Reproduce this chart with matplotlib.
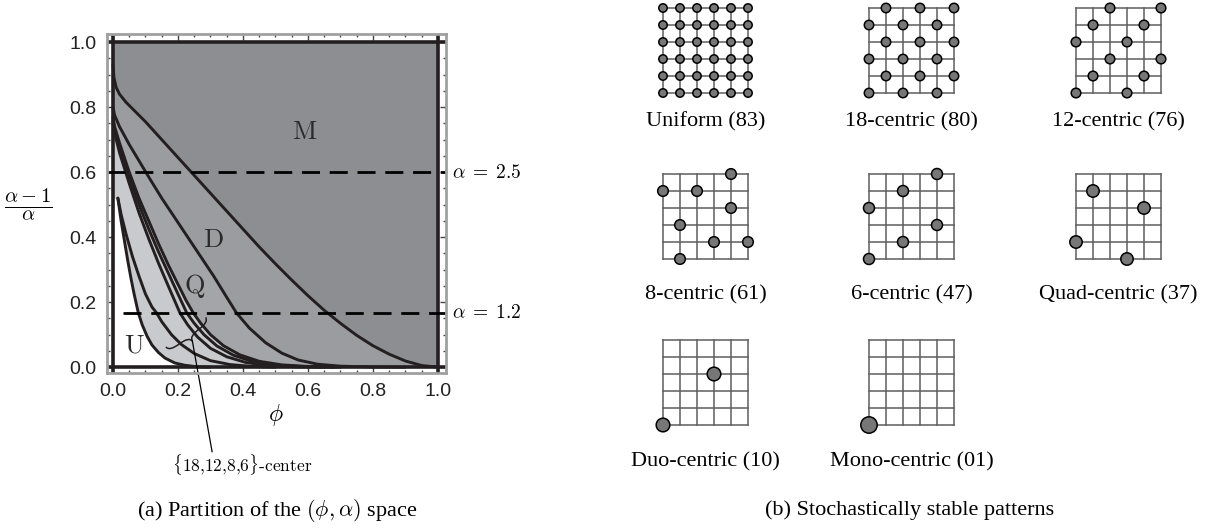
import numpy as np
import matplotlib.pyplot as plt
from matplotlib.patches import Circle, PathPatch
from matplotlib.path import Path

plt.rcParams['mathtext.fontset'] = 'cm'

# ---------------------------------------------------------------------------
# data: boundaries of the (phi, (alpha-1)/alpha) partition
# ---------------------------------------------------------------------------
# D | M
dm_x = [0.0, 0.003, 0.01, 0.02, 0.04, 0.07, 0.10, 0.15, 0.20, 0.25, 0.30, 0.35, 0.40,
        0.45, 0.50, 0.55, 0.60, 0.65, 0.70, 0.75, 0.80, 0.85, 0.90, 0.95, 1.0]
dm_y = [0.93, 0.89, 0.86, 0.84, 0.815, 0.785, 0.755, 0.70, 0.645, 0.59, 0.535, 0.48, 0.425,
        0.37, 0.318, 0.268, 0.22, 0.175, 0.135, 0.098, 0.066, 0.04, 0.019, 0.005, 0.0]
# Q | D
qd_x = [0.0, 0.005, 0.02, 0.05, 0.08, 0.113, 0.15, 0.19, 0.23, 0.27, 0.31, 0.35, 0.38,
        0.42, 0.47, 0.52, 0.57, 0.63, 0.70, 0.80, 0.90]
qd_y = [0.80, 0.775, 0.74, 0.685, 0.635, 0.58, 0.52, 0.46, 0.40, 0.34, 0.28, 0.215, 0.167,
        0.12, 0.075, 0.043, 0.022, 0.009, 0.003, 0.0005, 0.0]
# 6-centric | Q
sq_x = [0.0, 0.005, 0.02, 0.05, 0.08, 0.11, 0.14, 0.17, 0.20, 0.225, 0.247, 0.27, 0.30,
        0.34, 0.39, 0.45, 0.52, 0.60, 0.70]
sq_y = [0.77, 0.74, 0.69, 0.60, 0.52, 0.45, 0.38, 0.315, 0.255, 0.205, 0.167, 0.135, 0.10,
        0.066, 0.038, 0.018, 0.007, 0.002, 0.0]
# 8 | 6
es_x = [0.0, 0.005, 0.02, 0.05, 0.08, 0.11, 0.14, 0.17, 0.20, 0.227, 0.25, 0.28, 0.32,
        0.37, 0.43, 0.50, 0.58, 0.68]
es_y = [0.76, 0.73, 0.675, 0.585, 0.50, 0.425, 0.355, 0.29, 0.225, 0.167, 0.135, 0.10, 0.065,
        0.037, 0.017, 0.006, 0.002, 0.0]
# 12 | 8
te_x = [0.0, 0.005, 0.02, 0.05, 0.08, 0.11, 0.14, 0.17, 0.206, 0.23, 0.26, 0.30, 0.35,
        0.41, 0.48, 0.56, 0.65]
te_y = [0.75, 0.72, 0.66, 0.565, 0.475, 0.395, 0.32, 0.25, 0.167, 0.13, 0.093, 0.058, 0.032,
        0.014, 0.005, 0.001, 0.0]
# 18 | 12
et_x = [0.015, 0.025, 0.04, 0.06, 0.08, 0.10, 0.12, 0.134, 0.15, 0.18, 0.21, 0.25, 0.30,
        0.36, 0.43, 0.50]
et_y = [0.52, 0.47, 0.41, 0.34, 0.28, 0.225, 0.185, 0.167, 0.14, 0.10, 0.07, 0.042, 0.02,
        0.008, 0.002, 0.0]
# U | 18
u_x = [0.015, 0.025, 0.035, 0.045, 0.055, 0.065, 0.078, 0.09, 0.105, 0.12, 0.14, 0.16,
       0.19, 0.22, 0.26, 0.30]
u_y = [0.52, 0.45, 0.39, 0.33, 0.275, 0.225, 0.167, 0.13, 0.095, 0.068, 0.045, 0.028,
       0.013, 0.006, 0.001, 0.0]

alpha_levels = [2.5, 1.2]
region_names = ['M', 'D', 'Q', 'U']
region_x = [0.59, 0.308, 0.251, 0.067]
region_y = [0.723, 0.39, 0.251, 0.067]

# ---------------------------------------------------------------------------
# data: stochastically stable patterns on the 6x6 lattice (top row first)
# ---------------------------------------------------------------------------
pattern_labels = ['Uniform (83)', '18-centric (80)', '12-centric (76)',
                  '8-centric (61)', '6-centric (47)', 'Quad-centric (37)',
                  'Duo-centric (10)', 'Mono-centric (01)']
pattern_rows = [
    ['xxxxxx', 'xxxxxx', 'xxxxxx', 'xxxxxx', 'xxxxxx', 'xxxxxx'],
    ['.x.x.x', 'x.x.x.', '.x.x.x', 'x.x.x.', '.x.x.x', 'x.x.x.'],
    ['..x..x', '.x..x.', 'x..x..', '..x..x', '.x..x.', 'x..x..'],
    ['....x.', 'x.x...', '....x.', '.x....', '...x.x', '.x....'],
    ['....x.', '..x...', 'x.....', '....x.', '..x...', 'x.....'],
    ['......', '.x....', '....x.', '......', 'x.....', '...x..'],
    ['......', '......', '...x..', '......', '......', 'x.....'],
    ['......', '......', '......', '......', '......', 'x.....'],
]
node_radius_px = [4.2, 4.7, 4.8, 5.3, 5.5, 6.2, 6.8, 8.2]

W, H = 1225, 530
fig = plt.figure(figsize=(W / 100, H / 100), dpi=100)


def px_axes(x0, y0, x1, y1):
    return fig.add_axes([x0 / W, 1 - y1 / H, (x1 - x0) / W, (y1 - y0) / H])


# =============================================================================
# (a) partition of the parameter space
# =============================================================================
ax = px_axes(106.5, 34, 446, 373)
ax.set_xlim(-0.02, 1.025)
ax.set_ylim(-0.018, 1.025)

c_light, c_q, c_d, c_m = '#c9cacd', '#a4a5a9', '#9b9ca0', '#8d8e92'
line_c = '#231f20'

ax.fill_between([0, 1], 0, 1, color=c_light, lw=0)
ax.fill_between(np.r_[0, u_x], 0, np.r_[u_y[0], u_y], color='white', lw=0)
ax.fill_between(sq_x + [1.0], sq_y + [0.0], 1, color=c_q, lw=0)
ax.fill_between(qd_x + [1.0], qd_y + [0.0], 1, color=c_d, lw=0)
ax.fill_between(dm_x, dm_y, 1, color=c_m, lw=0)

for cx, cy in [(u_x, u_y), (et_x, et_y), (te_x, te_y), (es_x, es_y),
               (sq_x, sq_y), (qd_x, qd_y), (dm_x, dm_y)]:
    ax.plot(cx, cy, color=line_c, lw=2.1, solid_capstyle='round', solid_joinstyle='round')

for v in (0, 1):
    ax.axvline(v, color=line_c, lw=2.6)
    ax.axhline(v, color=line_c, lw=2.6)

starts = [-0.02, 0.03]
for a, s in zip(alpha_levels, starts):
    yv = (a - 1) / a
    ax.plot([s, 1.025], [yv, yv], color='black', lw=2, ls=(0, (6.5, 3.5)), clip_on=False)
    ax.text(1.045, yv, r'$\alpha\;=\;%g$' % a, fontsize=14, va='center', ha='left')

for name, rx, ry in zip(region_names, region_x, region_y):
    ax.text(rx, ry, r'$\mathrm{%s}$' % name, fontsize=19, ha='center', va='center',
            color='#2a2a2a')

# brace over the thin {18,12,8,6} strips
A = np.array([0.163, 0.062])
B = np.array([0.285, 0.153])
M = (A + B) / 2
n = np.array([B[1] - A[1], -(B[0] - A[0])])
n = n / np.hypot(*n)
h = 0.017
verts = [A, A + n * h, (A + M) / 2 + n * h, M + n * h, M + 2 * n * h,
         M + n * h, (B + M) / 2 + n * h, B + n * h, B]
codes = [Path.MOVETO] + [Path.CURVE3] * 8
ax.add_patch(PathPatch(Path(verts, codes), fc='none', ec=line_c, lw=1.1))
tip = M + 2 * n * h
ax.plot([tip[0], 0.305], [tip[1], -0.26], color='black', lw=0.9, clip_on=False)
ax.text(0.397, -0.30, r'$\{18{,}12{,}8{,}6\}\mathrm{\text{-}center}$', fontsize=12.5,
        ha='center', va='center')

ax.set_xticks(np.arange(0, 1.01, 0.2))
ax.set_yticks(np.arange(0, 1.01, 0.2))
ax.set_xticks(np.arange(0, 1.01, 0.05), minor=True)
ax.set_yticks(np.arange(0, 1.01, 0.05), minor=True)
ax.xaxis.set_major_formatter(plt.FormatStrFormatter('%.1f'))
ax.yaxis.set_major_formatter(plt.FormatStrFormatter('%.1f'))
ax.tick_params(which='both', direction='in', top=True, right=True, color='#444444')
ax.tick_params(which='major', length=4, width=1)
ax.tick_params(which='minor', length=2, width=1)
ax.tick_params(labelsize=14, labelcolor='#222222', pad=7)
for lab in ax.get_xticklabels() + ax.get_yticklabels():
    lab.set_family('Liberation Sans')
for sp in ax.spines.values():
    sp.set_color('#a0a0a0')
    sp.set_linewidth(2)

ax.set_xlabel(r'$\phi$', fontsize=17, labelpad=2)
fig.text(28 / W, 1 - 205 / H, r'$\frac{\alpha-1}{\alpha}$', fontsize=21,
         ha='center', va='center')

fig.text(277 / W, 1 - 510 / H, r'(a) Partition of the $(\phi, \alpha)$ space',
         fontsize=16, family='Liberation Serif', ha='center', va='center')

# =============================================================================
# (b) stochastically stable patterns
# =============================================================================
col_left = [663, 869, 1076]
row_top = [8, 174, 340]
label_y = [122, 295, 462]
cell = 17.0
pad = 0.7

for k, (label, rows, rpx) in enumerate(zip(pattern_labels, pattern_rows, node_radius_px)):
    gl = col_left[k % 3]
    gt = row_top[k // 3]
    g = px_axes(gl - pad * cell, gt - pad * cell, gl + (5 + pad) * cell, gt + (5 + pad) * cell)
    g.set_xlim(-pad, 5 + pad)
    g.set_ylim(-pad, 5 + pad)
    g.axis('off')
    for i in range(6):
        g.plot([i, i], [0, 5], color='#5e5e5e', lw=1.1, zorder=1)
        g.plot([0, 5], [i, i], color='#5e5e5e', lw=1.1, zorder=1)
    for r, line in enumerate(rows):
        for c, ch in enumerate(line):
            if ch == 'x':
                g.add_patch(Circle((c, 5 - r), rpx / cell, fc='#777777', ec='black',
                                   lw=1.1, zorder=3))
    fig.text((gl + 2.5 * cell) / W, 1 - label_y[k // 3] / H, label, fontsize=16,
             family='Liberation Serif', ha='center', va='center')

fig.text(910 / W, 1 - 510 / H, '(b) Stochastically stable patterns', fontsize=16,
         family='Liberation Serif', ha='center', va='center')

fig.savefig('out.png', dpi=100)
